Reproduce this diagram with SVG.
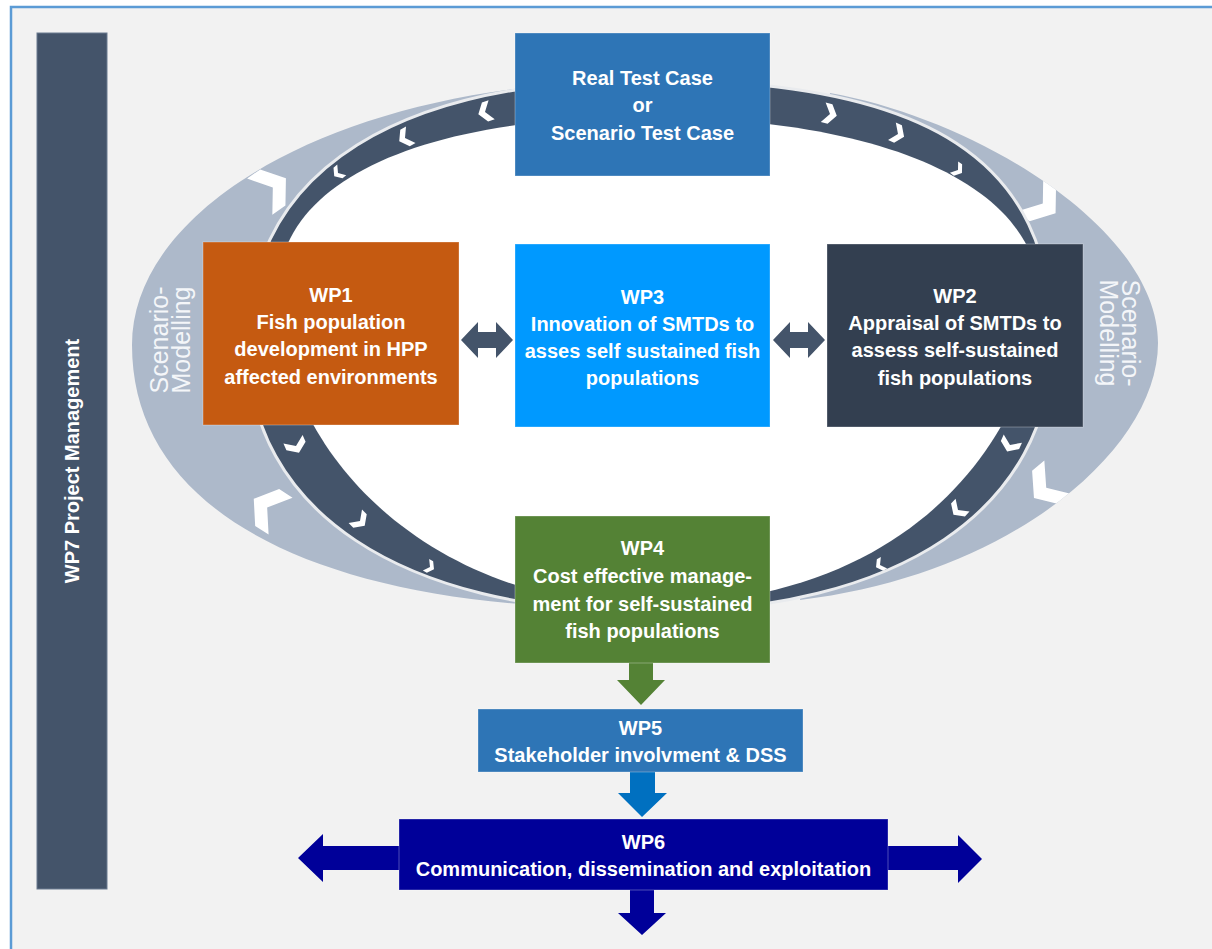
<svg xmlns="http://www.w3.org/2000/svg" width="1212" height="949" viewBox="0 0 1212 949">
<style>
.box{stroke:#ffffff;stroke-opacity:0.3;stroke-width:1}
.t{font-family:"Liberation Sans",Arial,sans-serif;font-weight:bold;font-size:20px;fill:#ffffff;text-anchor:middle}
.sc{font-family:"Liberation Sans",Arial,sans-serif;font-size:25px;fill:#f4f6f9;text-anchor:middle}
.chev{fill:#ffffff}
.light{fill:#adb9ca}
</style>
<defs>
<path id="chs" d="M -7,-10 L 0,-10 L 7,0 L 0,10 L -7,10 L 0,0 Z"/>
<path id="chl" d="M -15,-22 L 1,-22 L 17,0 L 1,22 L -15,22 L 1,0 Z"/>
<clipPath id="clipL"><path d="M 540,86 C 300,110 132,220 132,345 C 132,500 290,590 545,606 L 500,450 L 480,200 Z"/></clipPath>
<clipPath id="clipR"><path d="M 830,93 C 980,120 1158,230 1158,343 C 1158,450 1010,575 800,600 L 820,450 L 820,200 Z"/></clipPath>
</defs>
<rect x="0" y="0" width="1212" height="949" fill="#ffffff"/>
<rect x="11" y="7" width="1215" height="960" fill="#f2f2f2" stroke="#5b9bd5" stroke-width="2.5"/>

<g id="cycle">
  <path class="light" d="M 540,86 C 300,110 132,220 132,345 C 132,500 290,590 545,606 L 500,450 L 480,200 Z"/>
  <path class="light" d="M 830,93 C 980,120 1158,230 1158,343 C 1158,450 1010,575 800,600 L 820,450 L 820,200 Z"/>
  <g clip-path="url(#clipL)">
    <use href="#chl" class="chev" transform="translate(272,188) rotate(-35)"/>
    <use href="#chl" class="chev" transform="translate(268,508) rotate(-147)"/>
  </g>
  <g clip-path="url(#clipR)">
    <use href="#chl" class="chev" transform="translate(1042,203) rotate(37)"/>
    <use href="#chl" class="chev" transform="translate(1047,487) rotate(140)"/>
  </g>
  <path d="M 248,345 C 248,165 405,80 650,80 C 931,80 1052,162 1052,340 C 1052,509 899,612 650,612 C 401,612 248,510 248,345 Z" fill="#44546a" stroke="#e9ebee" stroke-width="3"/>
  <path d="M 278,290 C 278,183 417,117 643,117 C 889,117 1040,187 1040,300 C 1040,380 960,605 643,605 C 442,605 278,463 278,290 Z" fill="#ffffff"/>
  <use href="#chs" class="chev" transform="translate(485,112) rotate(162)"/>
  <use href="#chs" class="chev" transform="translate(405,138) rotate(150) scale(0.95)"/>
  <use href="#chs" class="chev" transform="translate(338,173) rotate(140) scale(0.7)"/>
  <use href="#chs" class="chev" transform="translate(830,114) rotate(14)"/>
  <use href="#chs" class="chev" transform="translate(898,134) rotate(24) scale(0.95)"/>
  <use href="#chs" class="chev" transform="translate(958,170) rotate(36) scale(0.7)"/>
  <use href="#chs" class="chev" transform="translate(296,446) rotate(66) scale(1.05)"/>
  <use href="#chs" class="chev" transform="translate(360,521) rotate(45) scale(0.95)"/>
  <use href="#chs" class="chev" transform="translate(430,567) rotate(29) scale(0.65)"/>
  <use href="#chs" class="chev" transform="translate(1010,445) rotate(114)"/>
  <use href="#chs" class="chev" transform="translate(958,510) rotate(133) scale(0.95)"/>
  <use href="#chs" class="chev" transform="translate(880,565) rotate(151) scale(0.65)"/>
  <text class="sc" transform="translate(168,340) rotate(-90)">Scenario-</text>
  <text class="sc" transform="translate(190,340) rotate(-90)">Modelling</text>
  <text class="sc" transform="translate(1122,333) rotate(90)">Scenario-</text>
  <text class="sc" transform="translate(1100,333) rotate(90)">Modelling</text>
</g>

<g id="connectors">
  <polygon fill="#44546a" points="461,340 478,322 478,332 496,332 496,322 513,340 496,358 496,348 478,348 478,358"/>
  <polygon fill="#44546a" points="773,340 790,322 790,332 808,332 808,322 825,340 808,358 808,348 790,348 790,358"/>
  <polygon fill="#548235" points="629,662 653,662 653,680 665,680 641,705 617,680 629,680"/>
  <polygon fill="#0070c0" points="630,771 655,771 655,793 667,793 642,817 618,793 630,793"/>
  <polygon fill="#000099" points="401,846 323,846 323,834 298,858 323,882 323,870 401,870"/>
  <polygon fill="#000099" points="886,846 958,846 958,835 982,859 958,883 958,870 886,870"/>
  <polygon fill="#000099" points="630,888 654,888 654,913 666,913 642,935 618,913 630,913"/>
</g>

<g id="wp7">
  <rect x="37" y="33" width="70" height="856" fill="#44546a" stroke="#6a7a90" stroke-width="1"/>
  <text class="t" transform="translate(79,461) rotate(-90)">WP7 Project Management</text>
</g>

<g id="testcase">
  <rect class="box" x="515" y="33" width="255" height="143" fill="#2e75b6"/>
  <text class="t" x="642.5" y="85">Real Test Case</text>
  <text class="t" x="642.5" y="112">or</text>
  <text class="t" x="642.5" y="140">Scenario Test Case</text>
</g>

<g id="wp1">
  <rect class="box" x="203" y="242" width="256" height="183" fill="#c55a11"/>
  <text class="t" x="331" y="302">WP1</text>
  <text class="t" x="331" y="329">Fish population</text>
  <text class="t" x="331" y="356">development in HPP</text>
  <text class="t" x="331" y="384">affected environments</text>
</g>

<g id="wp3">
  <rect class="box" x="515" y="244" width="255" height="183" fill="#0099ff"/>
  <text class="t" x="642.5" y="304">WP3</text>
  <text class="t" x="642.5" y="331">Innovation of SMTDs to</text>
  <text class="t" x="642.5" y="358">asses self sustained fish</text>
  <text class="t" x="642.5" y="385">populations</text>
</g>

<g id="wp2">
  <rect class="box" x="827" y="244" width="256" height="183" fill="#333f50"/>
  <text class="t" x="955" y="303">WP2</text>
  <text class="t" x="955" y="330">Appraisal of SMTDs to</text>
  <text class="t" x="955" y="357">assess self-sustained</text>
  <text class="t" x="955" y="385">fish populations</text>
</g>

<g id="wp4">
  <rect class="box" x="515" y="516" width="255" height="147" fill="#548235"/>
  <text class="t" x="642.5" y="555">WP4</text>
  <text class="t" x="642.5" y="583">Cost effective manage-</text>
  <text class="t" x="642.5" y="611">ment for self-sustained</text>
  <text class="t" x="642.5" y="638">fish populations</text>
</g>

<g id="wp5">
  <rect class="box" x="478" y="709" width="325" height="63" fill="#2e75b6"/>
  <text class="t" x="640.5" y="735">WP5</text>
  <text class="t" x="640.5" y="762">Stakeholder involvment &amp; DSS</text>
</g>

<g id="wp6">
  <rect class="box" x="399" y="819" width="489" height="71" fill="#000099"/>
  <text class="t" x="643.5" y="849">WP6</text>
  <text class="t" x="643.5" y="876">Communication, dissemination and exploitation</text>
</g>
</svg>
